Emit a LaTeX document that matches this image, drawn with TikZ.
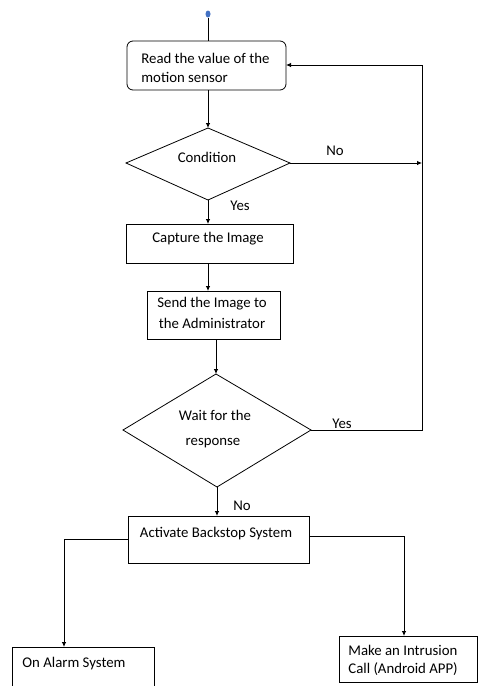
\documentclass[tikz,border=0pt]{standalone}
\usepackage{fontspec}
\setmainfont{Carlito}
\usetikzlibrary{arrows.meta,shapes.geometric}
\begin{document}
\begin{tikzpicture}[x=1pt,y=-1pt,
  line width=0.8pt,
  every node/.style={font=\fontsize{14.8}{17}\selectfont},
  arr/.style={-{Latex[length=5pt,width=4.5pt]}},
  lbl/.style={inner sep=0pt},
  boxr/.style={draw, rounded corners=6pt},
  boxs/.style={draw}]
\useasboundingbox (0,0) rectangle (478,686);
\clip (0,0) rectangle (478,686);
% start dot
\node[lbl, fill={rgb,255:red,68;green,114;blue,196}, ellipse, minimum width=5pt, minimum height=7pt] (dot) at (208,14) {};
% Read box
\draw[boxr] (127,41) rectangle (286,90);
\node[lbl, anchor=west] (t1) at (141,58) {Read the value of the};
\node[lbl, anchor=west] (t2) at (141,77) {motion sensor};
\coordinate (readT) at (208,41);
\coordinate (readB) at (208,90);
\coordinate (readR) at (286,65);
% Condition diamond
\draw (208,128) -- (290,163) -- (208,200) -- (126,163) -- cycle;
\coordinate (condT) at (208,128);
\coordinate (condR) at (290,163);
\coordinate (condB) at (208,200);
\node[lbl] (cond) at (207,157) {Condition};
% Capture box
\draw[boxs] (126,224) rectangle (293,263);
\node[lbl] (cap) at (208,239) {Capture the Image};
\coordinate (capT) at (208,224);
\coordinate (capB) at (208,263);
% Send box
\draw[boxs] (147,291) rectangle (280,339);
\node[lbl] (s1) at (212,304) {Send the Image to};
\node[lbl] (s2) at (212,323) {the Administrator};
\coordinate (sendT) at (208,291);
\coordinate (sendB) at (216,339);
% Wait diamond
\draw (216,374) -- (311,430) -- (217,487) -- (123,430) -- cycle;
\coordinate (waitT) at (216,374);
\coordinate (waitR) at (311,430);
\coordinate (waitB) at (217,487);
\node[lbl] (w1) at (215,415) {Wait for the};
\node[lbl] (w2) at (213,443) {response};
% Activate box
\draw[boxs] (128,516) rectangle (309,563);
\node[lbl] (act) at (216,534) {Activate Backstop System};
\coordinate (actT) at (217,516);
\coordinate (actL) at (128,539);
\coordinate (actR) at (309,536);
% Alarm box
\draw[boxs] (12,647) rectangle (154,700);
\node[lbl, anchor=west] (alarm) at (22,664) {On Alarm System};
\coordinate (alarmT) at (64,647);
% Intrusion box
\draw[boxs] (339,636) rectangle (477,682);
\node[lbl, anchor=west] (i1) at (348,650) {Make an Intrusion};
\node[lbl, anchor=west] (i2) at (348,669) {Call (Android APP)};
\coordinate (intT) at (404,636);
% loop line
\coordinate (loopTop) at (422,65);
\coordinate (loopMid) at (422,163);
\coordinate (loopBot) at (422,430);
% connectors
\draw (dot) -- (readT);
\draw[arr] (readB) -- (condT);
\draw[arr] (condR) -- (loopMid);
\draw[arr] (condB) -- (capT);
\draw[arr] (capB) -- (sendT);
\draw[arr] (sendB) -- (waitT);
\draw (waitR) -- (loopBot) -- (loopTop);
\draw[arr] (loopTop) -- (readR);
\draw[arr] (waitB) -- (actT);
\draw[arr] (actL) -- (64,539) -- (alarmT);
\draw[arr] (actR) -- (404,536) -- (intT);
% labels
\node[lbl] (no1) at (335,151) {No};
\node[lbl] (yes1) at (240,206) {Yes};
\node[lbl] (yes2) at (342,424) {Yes};
\node[lbl] (no2) at (242,506) {No};
\end{tikzpicture}
\end{document}
